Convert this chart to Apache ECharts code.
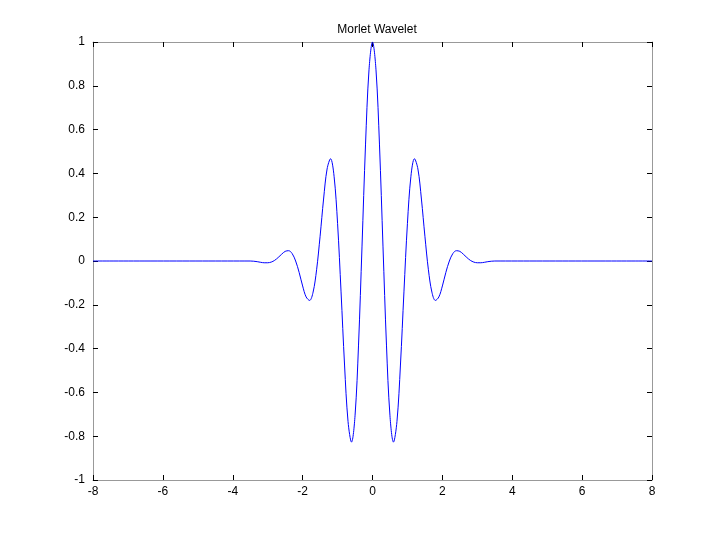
<!DOCTYPE html>
<html><head><meta charset="utf-8">
<script src="https://cdn.jsdelivr.net/npm/echarts@6/dist/echarts.min.js"></script>
<style>html,body{margin:0;padding:0;background:#fff}#c{width:720px;height:540px}</style>
</head><body><div id="c"></div>
<script>
var titleText = "Morlet Wavelet";
var xTicks = [-8,-6,-4,-2,0,2,4,6,8];
var yTicks = [-1,-0.8,-0.6,-0.4,-0.2,0,0.2,0.4,0.6,0.8,1];
var xs = [-8,-3.5,-3.4,-3.3,-3.2,-3.1,-3.0,-2.9,-2.8,-2.7,-2.6,-2.5,-2.4,-2.3,-2.2,-2.1,-2.0,-1.9,-1.8,-1.7,-1.6,-1.5,-1.4,-1.3,-1.2,-1.1,-1.0,-0.9,-0.8,-0.7,-0.6,-0.5,-0.4,-0.3,-0.2,-0.1,0,0.1,0.2,0.3,0.4,0.5,0.6,0.7,0.8,0.9,1.0,1.1,1.2,1.3,1.4,1.5,1.6,1.7,1.8,1.9,2.0,2.1,2.2,2.3,2.4,2.5,2.6,2.7,2.8,2.9,3.0,3.1,3.2,3.3,3.4,3.5,8];
var ys = [0,0,-0.001,-0.003,-0.006,-0.008,-0.008,-0.005,0.003,0.016,0.031,0.044,0.047,0.034,0.000,-0.052,-0.114,-0.164,-0.180,-0.142,-0.040,0.113,0.283,0.420,0.467,0.387,0.172,-0.141,-0.475,-0.733,-0.827,-0.707,-0.384,0.068,0.530,0.873,1.000,0.873,0.530,0.068,-0.384,-0.707,-0.827,-0.733,-0.475,-0.141,0.172,0.387,0.467,0.420,0.283,0.113,-0.040,-0.142,-0.180,-0.164,-0.114,-0.052,0.000,0.034,0.047,0.044,0.031,0.016,0.003,-0.005,-0.008,-0.008,-0.006,-0.003,-0.001,0,0];

var data = xs.map(function(x,i){return [x, ys[i]];});
var font = 'Liberation Sans, Arial, sans-serif';
function fmt(v){ var r = Math.round(v*10)/10; return String(r); }
var axisLine = {show:true, onZero:false, lineStyle:{color:'#999', width:1}};
var axisTick = {show:true, inside:true, length:5, lineStyle:{color:'#000', width:1}};
var chart = echarts.init(document.getElementById('c'));
chart.setOption({
  animation:false,
  backgroundColor:'#fff',
  title:{text:titleText, left:372, top:19, textAlign:'center',
    textStyle:{fontFamily:font, fontSize:12, fontWeight:'normal', color:'#000'}},
  grid:{left:93, right:68, top:42, bottom:60},
  xAxis:[
    {type:'value', min:xTicks[0], max:xTicks[xTicks.length-1], interval:2, position:'bottom',
     axisLine:axisLine, axisTick:axisTick, splitLine:{show:false},
     axisLabel:{color:'#000', fontFamily:font, fontSize:12, margin:6, formatter:fmt}},
    {type:'value', min:xTicks[0], max:xTicks[xTicks.length-1], interval:2, position:'top',
     axisLine:axisLine, axisTick:axisTick, splitLine:{show:false}, axisLabel:{show:false}}
  ],
  yAxis:[
    {type:'value', min:yTicks[0], max:yTicks[yTicks.length-1], interval:0.2, position:'left',
     axisLine:axisLine, axisTick:axisTick, splitLine:{show:false},
     axisLabel:{color:'#000', fontFamily:font, fontSize:12, margin:8, formatter:fmt}},
    {type:'value', min:yTicks[0], max:yTicks[yTicks.length-1], interval:0.2, position:'right',
     axisLine:axisLine, axisTick:axisTick, splitLine:{show:false}, axisLabel:{show:false}}
  ],
  series:[{type:'line', data:data, smooth:0.35, showSymbol:false, symbol:'none',
    lineStyle:{color:'#0000ff', width:1}, xAxisIndex:0, yAxisIndex:0}]
});
</script></body></html>
